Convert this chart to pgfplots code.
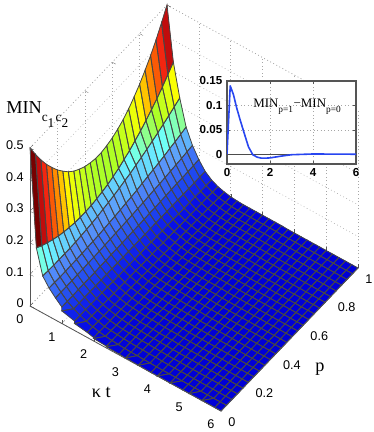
\documentclass[border=0pt]{standalone}
\usepackage{fontspec}
\setmainfont{Liberation Sans}
\newfontfamily\tms{Liberation Serif}
\usepackage{pgfplots}
\usepackage{pgfplotstable}
\pgfplotsset{compat=1.18}
\pgfplotsset{colormap={ref}{rgb255(0cm)=(0,0,215); rgb255(0.5cm)=(10,20,235); rgb255(1cm)=(30,70,240); rgb255(2cm)=(90,150,250); rgb255(3cm)=(110,255,255); rgb255(4cm)=(170,255,40); rgb255(5cm)=(255,255,0); rgb255(6cm)=(255,120,0); rgb255(7cm)=(240,20,20); rgb255(8cm)=(120,0,0)}}
\definecolor{meshc}{RGB}{70,70,70}
\definecolor{axc}{RGB}{85,85,85}
\definecolor{curve}{RGB}{40,70,240}
% one row per t (0, 0.2, ..., 6), 26 values of p (0, 0.04, ..., 1)
\pgfplotstableread[row sep=\\, header=false]{
.500\\.462\\.426\\.394\\.366\\.340\\.318\\.298\\.282\\.270\\.260\\.254\\.250\\.250\\.254\\.260\\.270\\.282\\.298\\.318\\.340\\.366\\.394\\.426\\.462\\.500\\
.195\\.184\\.175\\.167\\.160\\.155\\.151\\.148\\.147\\.147\\.148\\.151\\.155\\.160\\.167\\.175\\.185\\.195\\.208\\.221\\.236\\.252\\.269\\.288\\.309\\.330\\
.117\\.116\\.115\\.115\\.115\\.115\\.116\\.118\\.120\\.122\\.125\\.129\\.133\\.137\\.142\\.148\\.153\\.160\\.167\\.174\\.182\\.190\\.199\\.208\\.218\\.228\\
.090\\.090\\.089\\.089\\.090\\.090\\.091\\.092\\.093\\.094\\.096\\.098\\.100\\.102\\.105\\.107\\.110\\.114\\.117\\.121\\.124\\.128\\.133\\.137\\.142\\.147\\
.070\\.070\\.070\\.070\\.071\\.071\\.072\\.072\\.073\\.074\\.075\\.076\\.077\\.078\\.079\\.081\\.082\\.084\\.086\\.087\\.089\\.091\\.093\\.095\\.098\\.100\\
.052\\.052\\.052\\.053\\.053\\.053\\.053\\.054\\.054\\.055\\.055\\.056\\.056\\.057\\.057\\.058\\.059\\.059\\.060\\.061\\.062\\.063\\.063\\.064\\.065\\.066\\
.040\\.040\\.040\\.040\\.040\\.040\\.040\\.040\\.040\\.040\\.040\\.040\\.040\\.040\\.040\\.040\\.040\\.040\\.040\\.040\\.040\\.040\\.040\\.040\\.040\\.040\\
.030\\.030\\.030\\.029\\.029\\.029\\.029\\.028\\.028\\.028\\.028\\.027\\.027\\.027\\.027\\.026\\.026\\.026\\.026\\.025\\.025\\.025\\.025\\.024\\.024\\.024\\
.022\\.022\\.021\\.021\\.021\\.020\\.020\\.020\\.019\\.019\\.019\\.018\\.018\\.018\\.018\\.017\\.017\\.017\\.016\\.016\\.016\\.015\\.015\\.015\\.014\\.014\\
.016\\.016\\.015\\.015\\.015\\.014\\.014\\.014\\.013\\.013\\.013\\.012\\.012\\.012\\.012\\.011\\.011\\.011\\.010\\.010\\.010\\.009\\.009\\.009\\.008\\.008\\
.011\\.011\\.010\\.010\\.010\\.010\\.009\\.009\\.009\\.008\\.008\\.008\\.008\\.007\\.007\\.007\\.007\\.006\\.006\\.006\\.005\\.005\\.005\\.005\\.004\\.004\\
.008\\.008\\.008\\.007\\.007\\.007\\.007\\.006\\.006\\.006\\.006\\.005\\.005\\.005\\.005\\.004\\.004\\.004\\.004\\.003\\.003\\.003\\.003\\.002\\.002\\.002\\
.006\\.006\\.006\\.005\\.005\\.005\\.005\\.005\\.004\\.004\\.004\\.004\\.004\\.003\\.003\\.003\\.003\\.003\\.002\\.002\\.002\\.002\\.002\\.001\\.001\\.001\\
.004\\.004\\.004\\.004\\.004\\.003\\.003\\.003\\.003\\.003\\.003\\.003\\.003\\.002\\.002\\.002\\.002\\.002\\.002\\.002\\.002\\.001\\.001\\.001\\.001\\.001\\
.003\\.003\\.003\\.003\\.003\\.003\\.003\\.003\\.002\\.002\\.002\\.002\\.002\\.002\\.002\\.002\\.002\\.002\\.001\\.001\\.001\\.001\\.001\\.001\\.001\\.001\\
.002\\.002\\.002\\.002\\.002\\.002\\.002\\.002\\.002\\.002\\.002\\.002\\.002\\.001\\.001\\.001\\.001\\.001\\.001\\.001\\.001\\.001\\.001\\.001\\.001\\.001\\
.002\\.002\\.002\\.002\\.002\\.001\\.001\\.001\\.001\\.001\\.001\\.001\\.001\\.001\\.001\\.001\\.001\\.001\\.001\\.001\\.001\\.001\\.001\\.001\\.001\\.001\\
.001\\.001\\.001\\.001\\.001\\.001\\.001\\.001\\.001\\.001\\.001\\.001\\.001\\.001\\.001\\.001\\.001\\.001\\.001\\.001\\.001\\.001\\.001\\.001\\.001\\.001\\
.001\\.001\\.001\\.001\\.001\\.001\\.001\\.001\\.001\\.001\\.001\\.001\\.001\\.001\\.001\\.001\\.001\\.001\\.001\\.001\\.001\\.001\\.001\\.001\\.001\\.001\\
0\\0\\0\\0\\0\\0\\0\\0\\0\\0\\0\\0\\0\\0\\0\\0\\0\\0\\0\\0\\0\\0\\0\\0\\0\\0\\
0\\0\\0\\0\\0\\0\\0\\0\\0\\0\\0\\0\\0\\0\\0\\0\\0\\0\\0\\0\\0\\0\\0\\0\\0\\0\\
0\\0\\0\\0\\0\\0\\0\\0\\0\\0\\0\\0\\0\\0\\0\\0\\0\\0\\0\\0\\0\\0\\0\\0\\0\\0\\
0\\0\\0\\0\\0\\0\\0\\0\\0\\0\\0\\0\\0\\0\\0\\0\\0\\0\\0\\0\\0\\0\\0\\0\\0\\0\\
0\\0\\0\\0\\0\\0\\0\\0\\0\\0\\0\\0\\0\\0\\0\\0\\0\\0\\0\\0\\0\\0\\0\\0\\0\\0\\
0\\0\\0\\0\\0\\0\\0\\0\\0\\0\\0\\0\\0\\0\\0\\0\\0\\0\\0\\0\\0\\0\\0\\0\\0\\0\\
0\\0\\0\\0\\0\\0\\0\\0\\0\\0\\0\\0\\0\\0\\0\\0\\0\\0\\0\\0\\0\\0\\0\\0\\0\\0\\
0\\0\\0\\0\\0\\0\\0\\0\\0\\0\\0\\0\\0\\0\\0\\0\\0\\0\\0\\0\\0\\0\\0\\0\\0\\0\\
0\\0\\0\\0\\0\\0\\0\\0\\0\\0\\0\\0\\0\\0\\0\\0\\0\\0\\0\\0\\0\\0\\0\\0\\0\\0\\
0\\0\\0\\0\\0\\0\\0\\0\\0\\0\\0\\0\\0\\0\\0\\0\\0\\0\\0\\0\\0\\0\\0\\0\\0\\0\\
0\\0\\0\\0\\0\\0\\0\\0\\0\\0\\0\\0\\0\\0\\0\\0\\0\\0\\0\\0\\0\\0\\0\\0\\0\\0\\
0\\0\\0\\0\\0\\0\\0\\0\\0\\0\\0\\0\\0\\0\\0\\0\\0\\0\\0\\0\\0\\0\\0\\0\\0\\0\\
}\zdata
\begin{document}
\begin{tikzpicture}
\path[use as bounding box] (0,0) rectangle (280.5pt,324pt);
\begin{axis}[
    anchor=origin, at={(22.5pt,94.5pt)},
    x={(23.875pt,-13.125pt)}, y={(102.75pt,107.25pt)}, z={(0pt,237pt)},
    xmin=0, xmax=6, ymin=0, ymax=1, zmin=0, zmax=0.5,
    xtick={0,1,2,3,4,5,6}, ytick={0,0.2,0.4,0.6,0.8,1}, ztick={0,0.1,0.2,0.3,0.4,0.5},
    xticklabels={0,1,2,3,4,5,6},
    yticklabels={0,0.2,0.4,0.6,0.8,1},
    zticklabels={0,0.1,0.2,0.3,0.4,0.5},
    tick label style={font=\fontsize{9.5}{10}\selectfont, black, inner sep=0pt},
    xticklabel style={anchor=center, xshift=-7.5pt, yshift=-10pt},
    yticklabel style={anchor=west, xshift=5.25pt, yshift=-8.25pt},
    zticklabel style={anchor=east, xshift=-4.5pt, yshift=2pt},
    xtick pos=lower, ytick pos=lower, ztick pos=lower,
    tick style={axc}, tickwidth=3pt,
    grid=major, grid style={gray!70, dash pattern=on 0.6pt off 2pt},
    axis line style={gray!70, dash pattern=on 0.6pt off 2pt},
    clip=false,
    colormap name=ref, point meta min=0, point meta max=0.5,
]
\addplot3[surf, shader=flat corner, line width=0.1pt,
    mesh/ordering=y varies, mesh/rows=26, mesh/cols=31, point meta=z]
    table[x index=0, y index=0, z index=0, x expr={floor(\coordindex/26)*0.2}, y expr={mod(\coordindex,26)*0.04}] {\zdata};
\addplot3[mesh, color=meshc, line width=0.6pt,
    mesh/ordering=y varies, mesh/rows=26, mesh/cols=31]
    table[x index=0, y index=0, z index=0, x expr={floor(\coordindex/26)*0.2}, y expr={mod(\coordindex,26)*0.04}] {\zdata};
\draw[axc, line width=0.6pt] (axis cs:0,0,0) -- (axis cs:0,0,0.5);
\draw[axc, line width=0.6pt] (axis cs:0,0,0) -- (axis cs:6,0,0) -- (axis cs:6,1,0);
\end{axis}
% axis titles
\node[font=\tms\fontsize{13.7}{14}\selectfont, anchor=base west, inner sep=0pt] at (4.5pt,238.5pt) {MIN\raisebox{-6pt}{\fontsize{10}{10}\selectfont c\raisebox{-4pt}{1}\hspace{1pt}c\raisebox{-4pt}{2}}};
\node[font=\tms\fontsize{13.7}{14}\selectfont, anchor=base] at (76pt,25.5pt) {κ t};
\node[font=\tms\fontsize{13.7}{14}\selectfont, anchor=base] at (240pt,45pt) {p};
% inset
\begin{axis}[
    anchor=south west, at={(170.25pt,201pt)},
    scale only axis, width=96.75pt, height=62.25pt,
    xmin=0, xmax=6, ymin=-0.02, ymax=0.15,
    xtick={0,2,4,6}, ytick={0,0.05,0.1,0.15},
    xticklabels={0,2,4,6}, yticklabels={0,0.05,0.1,0.15},
    tick label style={font=\fontsize{8.7}{9}\selectfont\bfseries, black},
    xticklabel shift=0pt, yticklabel shift=0pt,
    tick style={axc}, tickwidth=2pt,
    grid=major, grid style={gray!70, dash pattern=on 0.6pt off 2pt},
    axis line style={axc, line width=1pt},
    axis background/.style={fill=white},
]
\addplot[black!70, line width=0.6pt] coordinates {(0,0) (6,0)};
\addplot[curve, line width=1.2pt, line join=round] coordinates {
(0,0) (0.15,0.14) (0.3,0.122) (0.45,0.095) (0.6,0.072) (0.8,0.043) (1,0.015) (1.2,-0.001) (1.4,-0.006) (1.6,-0.008) (1.8,-0.008) (2,-0.0075) (2.5,-0.004) (3,-0.001) (4,0.0005) (6,0)};
\end{axis}
\node[font=\tms\fontsize{9.7}{10}\selectfont, anchor=base west, inner sep=0pt] at (189.75pt,243pt) {MIN\raisebox{-3.5pt}{\fontsize{7}{7}\selectfont p=1}\hspace{0.5pt}−MIN\raisebox{-3.5pt}{\fontsize{7}{7}\selectfont p=0}};
\end{tikzpicture}
\end{document}
